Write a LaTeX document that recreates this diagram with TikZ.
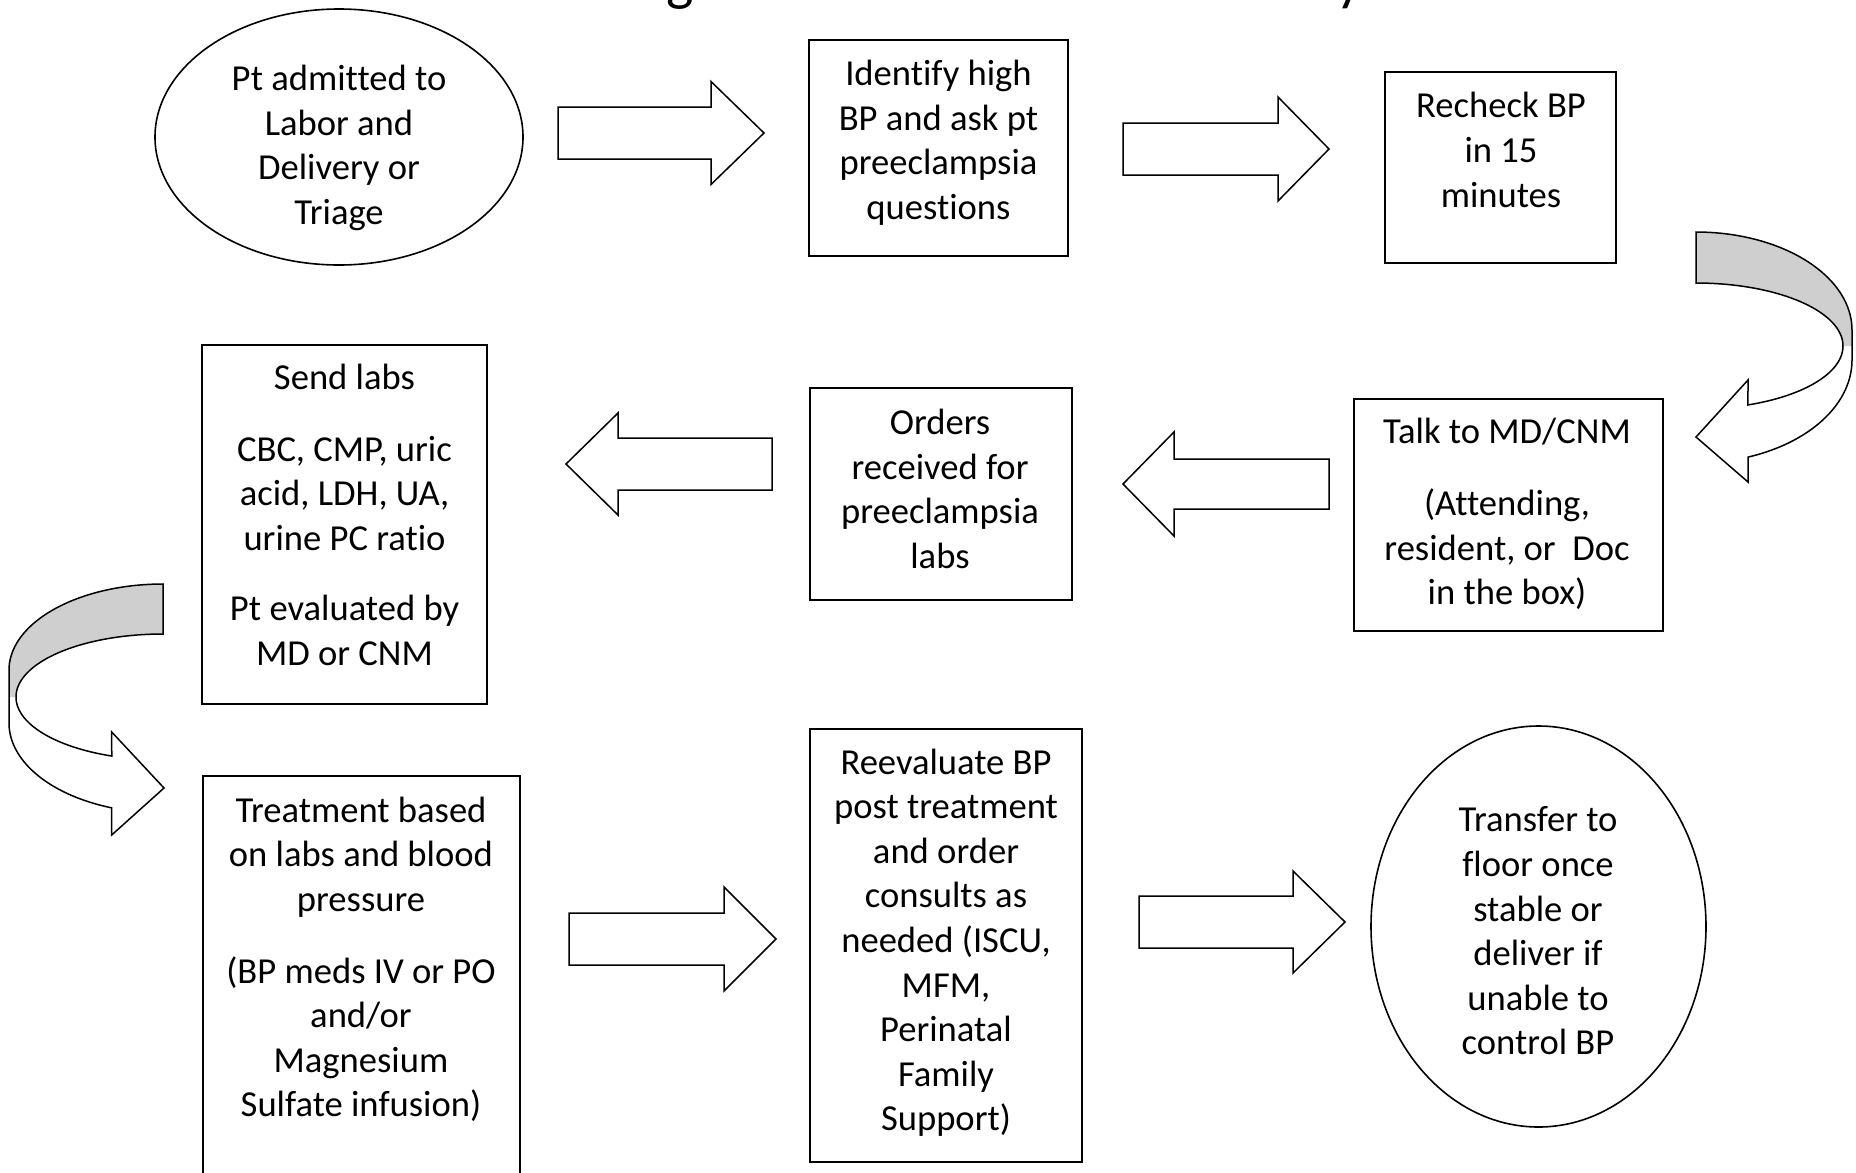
\documentclass[tikz,border=0pt]{standalone}
\usepackage{fontspec}
\setmainfont[Ligatures=NoCommon]{Carlito}
\usetikzlibrary{shapes.geometric}
\definecolor{bandgray}{RGB}{207,207,207}

% block arrow: shaft start x, head base x, tip x, centre y, half shaft, half head
\newcommand{\flowarrow}[6]{%
  \draw[blockarrow] (#1,{#4-#5}) -- (#2,{#4-#5}) -- (#2,{#4-#6}) -- (#3,#4)
    -- (#2,{#4+#6}) -- (#2,{#4+#5}) -- (#1,{#4+#5}) -- cycle;}

\tikzset{
  stepbox/.style={draw, line width=2pt, rectangle, inner sep=0pt},
  oval/.style={draw, line width=1.6pt, ellipse, inner sep=0pt},
  flowtext/.style={align=center, inner sep=0pt, yshift=-3.5pt,
    font=\fontsize{36.6}{44.6}\selectfont,
    execute at begin node=\strut, execute at end node=\strut},
  blockarrow/.style={draw, line width=1.5pt, fill=white, line join=miter},
  band/.style={draw, line width=1.5pt, line join=miter},
}

\begin{document}
\begin{tikzpicture}[x=1pt, y=-1pt]
\useasboundingbox (0,0) rectangle (1856,1173);
\fill[white] (0,0) rectangle (1856,1173);

% heading, mostly above the page edge
\begin{scope}
  \clip (0,0) rectangle (1856,1173);
  \node[anchor=base, inner sep=0pt, font=\fontsize{58}{70}\selectfont] (headg) at (680,-1) {g};
  \node[anchor=base, inner sep=0pt, font=\fontsize{58}{70}\selectfont] (heady) at (1350,-1) {y};
\end{scope}

% ---- first row
\node[oval, minimum width=368pt, minimum height=256pt] (admit) at (339,137) {};
\node[flowtext] (admitT) at (339,148) {Pt admitted to\\Labor and\\Delivery or\\Triage};

\node[stepbox, minimum width=259pt, minimum height=216pt] (identify) at (938.5,148) {};
\node[flowtext] (identifyT) at (938.5,143) {Identify high\\BP and ask pt\\preeclampsia\\questions};

\node[stepbox, minimum width=231pt, minimum height=191pt] (recheck) at (1500.5,167.5) {};
\node[flowtext] (recheckT) at (1501,153) {Recheck BP\\in 15\\minutes};

\flowarrow{558}{711}{764}{133}{26}{51.5}
\flowarrow{1123}{1278}{1329}{149}{26}{52}

% ---- second row
\node[stepbox, minimum width=309pt, minimum height=232pt] (talk) at (1508.5,515) {};
\node[flowtext] (talkT) at (1507,514.5) {Talk to MD/CNM\\[28pt](Attending,\\resident, or\ \ Doc\\in the box)};

\node[stepbox, minimum width=262pt, minimum height=212pt] (orders) at (941,494) {};
\node[flowtext] (ordersT) at (940,492) {Orders\\received for\\preeclampsia\\labs};

\node[stepbox, minimum width=284.5pt, minimum height=359.5pt] (labs) at (344.25,524.25) {};
\node[flowtext] (labsT) at (344.5,518) {Send labs\\[27pt]CBC, CMP, uric\\acid, LDH, UA,\\urine PC ratio\\[26pt]Pt evaluated by\\MD or CNM};

\flowarrow{1329}{1174}{1123}{484}{25}{52}
\flowarrow{772}{618}{566}{464}{26}{51}

% ---- third row
\node[stepbox, minimum width=317.5pt, minimum height=409.5pt] (treat) at (361.25,980.25) {};
\node[flowtext] (treatT) at (361,960) {Treatment based\\on labs and blood\\pressure\\[27pt](BP meds IV or PO\\and/or\\Magnesium\\Sulfate infusion)};

\node[stepbox, minimum width=272pt, minimum height=433pt] (reeval) at (946,945.5) {};
\node[flowtext] (reevalT) at (946,943) {Reevaluate BP\\post treatment\\and order\\consults as\\needed (ISCU,\\MFM,\\Perinatal\\Family\\Support)};

\node[oval, minimum width=335pt, minimum height=401pt] (transfer) at (1538.5,926.5) {};
\node[flowtext] (transferT) at (1538,934) {Transfer to\\floor once\\stable or\\deliver if\\unable to\\control BP};

\flowarrow{569}{724}{776}{939}{26}{52}
\flowarrow{1139}{1293}{1345}{922}{26}{51}

% ---- curved arrow on the right, turning back to the left
\fill[bandgray] plot[domain=-90:0, samples=40] ({1696+156*cos(\x)},{330+98*sin(\x)})
  -- (1852,346) -- (1843,346)
  -- plot[domain=0:-90, samples=40] ({1696+147*cos(\x)},{346+63*sin(\x)}) -- cycle;
\draw[band] (1696,283)
  -- plot[domain=-90:0, samples=40] ({1696+156*cos(\x)},{330+98*sin(\x)})
  -- plot[domain=0:70.5, samples=40] ({1696+156*cos(\x)},{360+103*sin(\x)})
  -- (1748,482) -- (1696,437) -- (1748,380)
  -- plot[domain=69.3:-90, samples=80] ({1696+147*cos(\x)},{346+63*sin(\x)}) -- cycle;

% ---- curved arrow on the left, turning back to the right
\fill[bandgray] plot[domain=-90:-180, samples=40] ({163+154*cos(\x)},{670+86*sin(\x)})
  -- (9,697) -- (16,697)
  -- plot[domain=180:270, samples=40] ({163+147*cos(\x)},{697+63*sin(\x)}) -- cycle;
\draw[band] (163,634)
  -- plot[domain=-90:-180, samples=40] ({163+154*cos(\x)},{670+86*sin(\x)})
  -- plot[domain=180:109.5, samples=40] ({163+154*cos(\x)},{723+90*sin(\x)})
  -- (111.7,835) -- (164,788) -- (111.7,732)
  -- plot[domain=110.4:270, samples=80] ({163+147*cos(\x)},{697+63*sin(\x)}) -- cycle;

\end{tikzpicture}
\end{document}
